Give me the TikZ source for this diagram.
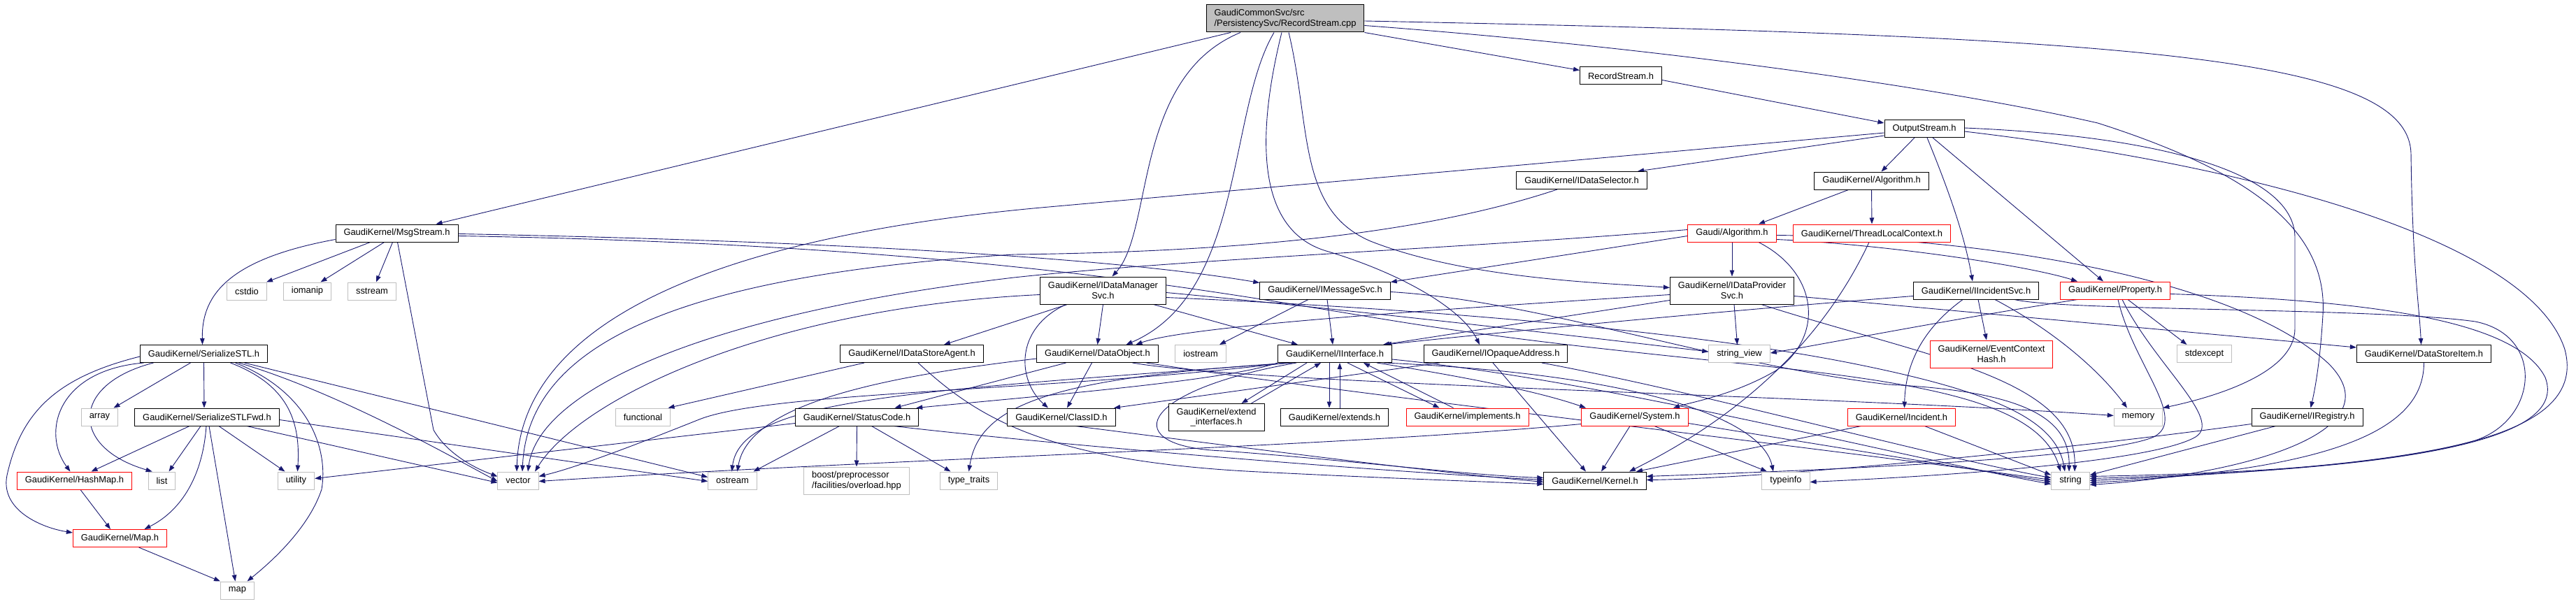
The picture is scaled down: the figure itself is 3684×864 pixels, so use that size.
\documentclass[tikz,border=0pt]{standalone}
\usepackage{fontspec}
\setmainfont{Liberation Sans}
\usepackage{tikz}
\usetikzlibrary{arrows.meta,backgrounds}
\definecolor{edgeblue}{HTML}{191970}
\definecolor{leafgray}{HTML}{BFBFBF}

\begin{document}
\begin{tikzpicture}[x=1pt,y=-1pt,
        hdr/.style={draw=black,fill=white,line width=1pt,inner xsep=11.5pt,inner ysep=2pt,minimum height=25pt,font=\fontsize{12.9}{14.5}\selectfont},
        stdh/.style={hdr,draw=leafgray},
        trunc/.style={hdr,draw=red},
        tall/.style={minimum height=39pt,align=center},
        dep/.style={draw=edgeblue,line width=0.9pt,-{Triangle[length=9pt,width=6.5pt]}}]
            \useasboundingbox (0,0) rectangle (3684,864);

            \node[hdr,fill=leafgray,tall,align=left] (main) at (1838,26.5) {GaudiCommonSvc/src\\/PersistencySvc/RecordStream.cpp};
            \node[hdr] (RS) at (2318,108.5) {RecordStream.h};
            \node[hdr] (OS) at (2752,184) {OutputStream.h};
            \node[hdr] (IDS) at (2262,258) {GaudiKernel/IDataSelector.h};
            \node[hdr] (GKAlg) at (2676.5,258.5) {GaudiKernel/Algorithm.h};
            \node[hdr] (MsgS) at (567.5,333.5) {GaudiKernel/MsgStream.h};
            \node[trunc] (GAlg) at (2477,333.5) {Gaudi/Algorithm.h};
            \node[trunc] (TLC) at (2677,333.5) {GaudiKernel/ThreadLocalContext.h};
            \node[hdr,tall] (IDM) at (1577.5,415.5) {GaudiKernel/IDataManager\\Svc.h};
            \node[hdr] (IMS) at (1895,415.5) {GaudiKernel/IMessageSvc.h};
            \node[hdr,tall] (IDP) at (2477,415.5) {GaudiKernel/IDataProvider\\Svc.h};
            \node[hdr] (IInc) at (2826,415.5) {GaudiKernel/IIncidentSvc.h};
            \node[trunc] (Prop) at (3025,415.5) {GaudiKernel/Property.h};
            \node[stdh] (cstdio) at (353,416.5) {cstdio};
            \node[stdh] (iomanip) at (439.5,416.5) {iomanip};
            \node[stdh] (sstream) at (532,416.5) {sstream};
            \node[hdr] (SSTL) at (291.5,506) {GaudiKernel/SerializeSTL.h};
            \node[hdr] (IDSA) at (1304,506) {GaudiKernel/IDataStoreAgent.h};
            \node[hdr] (DO) at (1569.5,506) {GaudiKernel/DataObject.h};
            \node[stdh] (iostream) at (1717,506) {iostream};
            \node[hdr] (IIf) at (1909,506) {GaudiKernel/IInterface.h};
            \node[hdr] (IOA) at (2139,506) {GaudiKernel/IOpaqueAddress.h};
            \node[stdh] (strview) at (2487.5,506) {string\_view};
            \node[trunc,tall] (ECH) at (2848,506.5) {GaudiKernel/EventContext\\Hash.h};
            \node[stdh] (stdexcept) at (3152.5,506) {stdexcept};
            \node[hdr] (DSI) at (3466.5,506) {GaudiKernel/DataStoreItem.h};
            \node[stdh] (array) at (142.5,596.5) {array};
            \node[hdr] (SSTLF) at (296,596.5) {GaudiKernel/SerializeSTLFwd.h};
            \node[stdh] (functional) at (919.5,596.5) {functional};
            \node[hdr] (SC) at (1225.5,596.5) {GaudiKernel/StatusCode.h};
            \node[hdr] (CID) at (1518,596.5) {GaudiKernel/ClassID.h};
            \node[hdr,tall] (ExtI) at (1739.5,597) {GaudiKernel/extend\\\_interfaces.h};
            \node[hdr] (Ext) at (1908.5,596.5) {GaudiKernel/extends.h};
            \node[trunc] (Impl) at (2098.5,596.5) {GaudiKernel/implements.h};
            \node[trunc] (Sys) at (2338,596.5) {GaudiKernel/System.h};
            \node[trunc] (Inc) at (2719.5,596.5) {GaudiKernel/Incident.h};
            \node[stdh] (memory) at (3058,596.5) {memory};
            \node[hdr] (IReg) at (3299.5,596.5) {GaudiKernel/IRegistry.h};
            \node[trunc] (HM) at (106.5,687.5) {GaudiKernel/HashMap.h};
            \node[stdh] (list) at (231.5,687.5) {list};
            \node[stdh] (utility) at (423.5,687.5) {utility};
            \node[stdh] (vector) at (741,687.5) {vector};
            \node[stdh] (ostream) at (1047.5,687.5) {ostream};
            \node[stdh,tall,align=left] (boost) at (1225,687.5) {boost/preprocessor\\/facilities/overload.hpp};
            \node[stdh] (typetraits) at (1385.5,687.5) {type\_traits};
            \node[hdr] (Kern) at (2281,687.5) {GaudiKernel/Kernel.h};
            \node[stdh] (typeinfo) at (2554,687.5) {typeinfo};
            \node[stdh] (string) at (2961,687.5) {string};
            \node[trunc] (Map) at (171.5,770) {GaudiKernel/Map.h};
            \node[stdh] (map) at (339.5,844.5) {map};

            \begin{scope}[on background layer]
            % RecordStream.cpp
            \draw[dep] ([xshift=-78pt]main.south) -- ([xshift=56pt]MsgS.north);
            \draw[dep] ([xshift=-64pt]main.south) .. controls (1620,110) and (1650,330) .. ([xshift=13pt]IDM.north);
            \draw[dep] ([xshift=-16pt]main.south) .. controls (1755,160) and (1780,420) .. ([xshift=41pt]DO.north);
            \draw[dep] ([xshift=-5pt]main.south) .. controls (1800,180) and (1790,330) .. (1900,360) .. controls (2000,390) and (2090,440) .. ([xshift=-23pt]IOA.north);
            \draw[dep] ([xshift=5pt]main.south) .. controls (1875,180) and (1855,300) .. (1960,345) .. controls (2100,400) and (2300,405) .. ([yshift=4pt]IDP.west);
            \draw[dep] ([yshift=-3.5pt]main.east) .. controls (3050,52) and (3445,80) .. (3448,220) .. controls (3450,380) and (3460,440) .. ([xshift=-4pt]DSI.north);
            \draw[dep] ([yshift=-10pt]main.east) .. controls (2400,70) and (2800,130) .. (3000,176) .. controls (3200,240) and (3330,320) .. (3322,450) .. controls (3318,520) and (3310,560) .. ([xshift=5pt]IReg.north);
            \draw[dep] (main.south east) -- ([yshift=8pt]RS.west);
            % OutputStream.h
            \draw[dep] ([yshift=-6pt]RS.east) -- ([yshift=8pt]OS.west);
            \draw[dep] ([yshift=-6pt]OS.west) -- (1500,296) .. controls (1000,340) and (745,470) .. ([xshift=-2pt]vector.north);
            \draw[dep] ([yshift=-10pt]OS.west) -- ([xshift=80pt]IDS.north);
            \draw[dep] ([xshift=-14pt]OS.south) -- ([xshift=14pt]GKAlg.north);
            \draw[dep] ([xshift=4pt]OS.south) .. controls (2790,280) and (2810,340) .. ([xshift=-5pt]IInc.north);
            \draw[dep] ([xshift=12pt]OS.south) -- ([xshift=-17pt]Prop.north);
            \draw[dep] ([yshift=1pt]OS.east) .. controls (3100,195) and (3282,250) .. (3282,340) -- (3282,470) .. controls (3282,530) and (3180,565) .. (memory.north east);
            \draw[dep] ([yshift=-4pt]OS.east) .. controls (3250,240) and (3620,350) .. (3668,500) .. controls (3700,620) and (3500,672) .. ([yshift=6pt]string.east);
            \draw[dep] ([xshift=-35pt]IDS.south) .. controls (2050,330) and (1800,360) .. (1450,364) .. controls (950,395) and (755,500) .. ([xshift=6pt]vector.north);
            \draw[dep] ([xshift=-33pt]GKAlg.south) -- ([xshift=38pt]GAlg.north);
            \draw[dep] (GKAlg.south) -- (TLC.north);
            % algorithms
            \draw[dep] ([yshift=5pt]GAlg.west) .. controls (2100,355) and (1700,370) .. (1450,397) .. controls (1000,450) and (770,560) .. ([xshift=14pt]vector.north);
            \draw[dep] ([yshift=-4pt]GAlg.west) -- ([yshift=12pt]IMS.east);
            \draw[dep] (GAlg.south) -- (IDP.north);
            \draw[dep] ([xshift=38pt]GAlg.south) .. controls (2600,390) and (2610,480) .. (2540,530) .. controls (2480,565) and (2420,575) .. ([xshift=55pt]Sys.north);
            \draw[dep] ([yshift=-9pt]GAlg.east) .. controls (2700,350) and (2900,380) .. ([xshift=-54pt]Prop.north);
            \draw[dep] ([yshift=-3pt]GAlg.east) .. controls (2850,340) and (3200,400) .. (3330,520) .. controls (3430,620) and (3200,680) .. ([yshift=-6pt]string.east);
            \draw[dep] ([xshift=-4pt]TLC.south) .. controls (2620,460) and (2520,580) .. ([xshift=49pt]Kern.north);
            % MsgStream.h
            \draw[dep] ([yshift=-9pt]MsgS.west) .. controls (330,370) and (288,420) .. ([xshift=-2pt]SSTL.north);
            \draw[dep] ([xshift=-38pt]MsgS.south) -- ([xshift=28pt]cstdio.north);
            \draw[dep] ([xshift=-18pt]MsgS.south) -- ([xshift=19pt]iomanip.north);
            \draw[dep] ([xshift=-6pt]MsgS.south) -- ([xshift=6pt]sstream.north);
            \draw[dep] ([xshift=1pt]MsgS.south) -- (620,615) .. controls (640,650) and (680,670) .. ([yshift=6pt]vector.west);
            \draw[dep] ([yshift=-1pt]MsgS.east) .. controls (1200,345) and (1600,370) .. ([yshift=11pt]IMS.west);
            \draw[dep] ([yshift=-4pt]MsgS.east) .. controls (1400,350) and (1750,420) .. (2000,460) .. controls (2500,540) and (2900,520) .. ([xshift=-14pt]string.north);
            \draw[dep] ([xshift=-24pt]IMS.south) -- ([xshift=27pt]iostream.north);
            \draw[dep] ([xshift=3pt]IMS.south) -- ([xshift=-3pt]IIf.north);
            \draw[dep] ([yshift=-2pt]IMS.east) .. controls (2200,430) and (2450,520) .. (2700,550) .. controls (2900,560) and (2960,600) .. ([xshift=-2pt]string.north);
            % data services
            \draw[dep] ([yshift=-6pt]IDM.west) .. controls (1100,440) and (830,570) .. ([xshift=24pt]vector.north);
            \draw[dep] ([xshift=-51pt]IDM.south) -- ([xshift=46pt]IDSA.north);
            \draw[dep] ([xshift=-53pt]IDM.south) .. controls (1450,470) and (1455,545) .. ([xshift=-19pt]CID.north);
            \draw[dep] (IDM.south) -- (DO.north);
            \draw[dep] ([xshift=72pt]IDM.south) -- ([xshift=-53pt]IIf.north);
            \draw[dep] ([yshift=-3pt]IDM.east) .. controls (1900,440) and (2250,480) .. ([yshift=3pt]strview.west);
            \draw[dep] ([yshift=-10pt]IDM.east) .. controls (2000,440) and (2400,470) .. (2650,520) .. controls (2850,560) and (2940,600) .. ([xshift=-8pt]string.north);
            \draw[dep] ([yshift=-6pt]IDP.west) .. controls (2100,440) and (1700,465) .. ([xshift=55pt]DO.north);
            \draw[dep] ([yshift=-14pt]IDP.west) -- ([xshift=69pt]IIf.north);
            \draw[dep] ([xshift=3pt]IDP.south) -- ([xshift=-3pt]strview.north);
            \draw[dep] ([xshift=42pt]IDP.south) .. controls (2750,510) and (2970,540) .. ([xshift=6pt]string.north);
            \draw[dep] ([yshift=-8pt]IDP.east) -- ([yshift=9pt]DSI.west);
            \draw[dep] ([xshift=-80pt]IOA.south) -- ([xshift=75pt]CID.north);
            \draw[dep] ([xshift=-4pt]IOA.south) -- ([xshift=-13pt]Kern.north);
            \draw[dep] ([xshift=66pt]IOA.south) .. controls (2450,565) and (2750,650) .. ([yshift=4pt]string.west);
            \draw[dep] ([yshift=-7pt]DO.west) .. controls (1250,540) and (1070,580) .. ([xshift=7pt]ostream.north);
            \draw[dep] ([xshift=-45pt]DO.south) -- ([xshift=54pt]SC.north);
            \draw[dep] ([xshift=-8pt]DO.south) -- ([xshift=8pt]CID.north);
            \draw[dep] ([xshift=50pt]DO.south) .. controls (1800,550) and (2600,565) .. ([yshift=2pt]memory.west);
            \draw[dep] ([xshift=70pt]DO.south) .. controls (1900,560) and (2600,640) .. ([yshift=1pt]string.west);
            % IInterface.h
            \draw[dep] ([xshift=-40pt]IIf.south) -- ([xshift=36pt]ExtI.north);
            \draw[dep] ([xshift=50pt]ExtI.north) -- ([xshift=-20pt]IIf.south);
            \draw[dep] ([xshift=-8pt]IIf.south) -- ([xshift=-7.5pt]Ext.north);
            \draw[dep] ([xshift=7.5pt]Ext.north) -- ([xshift=7pt]IIf.south);
            \draw[dep] ([xshift=18pt]IIf.south) -- ([xshift=-40pt]Impl.north);
            \draw[dep] ([xshift=-20pt]Impl.north) -- ([xshift=41pt]IIf.south);
            \draw[dep] (IIf.south west) .. controls (1750,545) and (1500,565) .. ([xshift=-4pt]SC.north east);
            \draw[dep] ([xshift=-55pt]IIf.south) .. controls (1620,560) and (1600,640) .. (1750,645) .. controls (1950,660) and (2100,680) .. ([yshift=4pt]Kern.west);
            \draw[dep] ([xshift=60pt]IIf.south) .. controls (2100,540) and (2200,560) .. ([xshift=-70pt]Sys.north);
            \draw[dep] ([xshift=70pt]IIf.south) .. controls (2350,535) and (2520,600) .. ([xshift=-18pt]typeinfo.north);
            \draw[dep] ([yshift=-8pt]IIf.east) .. controls (2300,545) and (2700,650) .. ([yshift=-5pt]string.west);
            \draw[dep] ([xshift=-60pt]IIf.south) .. controls (1500,540) and (1400,580) .. (typetraits.north);
            \draw[dep] ([xshift=-64pt]IIf.south) .. controls (1300,560) and (1060,570) .. ([xshift=-1pt]ostream.north);
            \draw[dep] ([xshift=-68pt]IIf.south) .. controls (1500,560) and (1100,560) .. (1000,600) .. controls (900,640) and (820,670) .. ([yshift=6pt]vector.east);
            % SerializeSTL.h
            \draw[dep] ([yshift=-4pt]SSTL.west) .. controls (80,540) and (30,590) .. (10,680) .. controls (0,730) and (60,755) .. ([yshift=8pt]Map.west);
            \draw[dep] ([xshift=-86pt]SSTL.south) .. controls (80,530) and (60,620) .. ([xshift=-6pt]HM.north);
            \draw[dep] ([xshift=-72pt]SSTL.south) .. controls (100,550) and (100,640) .. ([xshift=6pt]list.north west);
            \draw[dep] ([xshift=-19pt]SSTL.south) -- ([xshift=20pt]array.north);
            \draw[dep] (SSTL.south) -- ([xshift=-4pt]SSTLF.north);
            \draw[dep] ([xshift=38pt]SSTL.south) .. controls (410,550) and (430,600) .. ([xshift=2pt]utility.north);
            \draw[dep] ([xshift=45pt]SSTL.south) .. controls (440,560) and (470,640) .. (460,700) .. controls (440,760) and (380,810) .. ([xshift=14pt]map.north);
            \draw[dep] ([xshift=50pt]SSTL.south) .. controls (480,560) and (640,650) .. ([yshift=-1pt]vector.west);
            \draw[dep] ([xshift=58pt]SSTL.south) -- ([yshift=5pt]ostream.west);
            \draw[dep] ([xshift=-25pt]SSTLF.south) -- ([xshift=24pt]HM.north);
            \draw[dep] ([xshift=-9pt]SSTLF.south) -- ([xshift=10pt]list.north);
            \draw[dep] ([xshift=-1pt]SSTLF.south) .. controls (290,680) and (260,730) .. ([xshift=35pt]Map.north);
            \draw[dep] ([xshift=3pt]SSTLF.south) -- ([xshift=-3pt]map.north);
            \draw[dep] ([xshift=17pt]SSTLF.south) -- ([xshift=-16pt]utility.north);
            \draw[dep] ([xshift=57pt]SSTLF.south) -- ([yshift=-3pt]vector.west);
            \draw[dep] ([yshift=-4pt]SSTLF.east) -- ([yshift=-1pt]ostream.west);
            \draw[dep] ([xshift=8.5pt]HM.south) -- ([xshift=-13.5pt]Map.north);
            \draw[dep] ([xshift=27pt]Map.south) -- (map.north west);
            % StatusCode.h and friends
            \draw[dep] ([yshift=-9pt]SC.west) -- ([yshift=3pt]utility.east);
            \draw[dep] ([xshift=-25pt]SC.south) -- ([xshift=30pt]ostream.north);
            \draw[dep] (SC.south) -- (boost.north);
            \draw[dep] ([xshift=21pt]SC.south) -- ([xshift=-26pt]typetraits.north);
            \draw[dep] ([xshift=53pt]SC.south) .. controls (1450,630) and (1900,670) .. ([yshift=1pt]Kern.west);
            \draw[dep] ([xshift=20pt]CID.south) .. controls (1700,630) and (2000,670) .. ([yshift=-2pt]Kern.west);
            \draw[dep] ([xshift=-68pt]IDSA.south) -- ([xshift=36pt]functional.north);
            \draw[dep] ([xshift=9pt]IDSA.south) .. controls (1400,600) and (1500,660) .. (1800,675) .. controls (2000,685) and (2150,690) .. ([yshift=-5pt]Kern.west);
            \draw[dep] ([yshift=-10pt]Sys.west) .. controls (1900,640) and (1300,655) .. ([yshift=-1pt]vector.east);
            \draw[dep] ([xshift=-7pt]Sys.south) -- ([xshift=9pt]Kern.north);
            \draw[dep] ([xshift=28pt]Sys.south) -- ([xshift=-27pt]typeinfo.north);
            \draw[dep] ([yshift=-9pt]Sys.east) -- ([yshift=-2pt]string.west);
            \draw[dep] ([xshift=-58pt]Inc.south) -- ([xshift=59pt]Kern.north);
            \draw[dep] ([xshift=33pt]Inc.south) -- ([yshift=8pt]string.west);
            % IIncidentSvc.h, Property.h
            \draw[dep] ([yshift=-8pt]IInc.west) .. controls (2400,450) and (2100,480) .. ([xshift=72pt]IIf.north);
            \draw[dep] ([xshift=-19pt]IInc.south) .. controls (2750,470) and (2725,520) .. ([xshift=4pt]Inc.north);
            \draw[dep] ([xshift=3pt]IInc.south) -- ([xshift=-7pt]ECH.north);
            \draw[dep] ([xshift=27pt]IInc.south) .. controls (2950,480) and (3010,540) .. ([xshift=-16pt]memory.north);
            \draw[dep] ([xshift=55pt]IInc.south) .. controls (2950,445) and (3400,440) .. (3540,460) .. controls (3640,480) and (3630,600) .. (3540,630) .. controls (3400,670) and (3100,682) .. (string.east);
            \draw[dep] ([xshift=-54pt]Prop.south) .. controls (2800,455) and (2620,490) .. ([yshift=1pt]strview.east);
            \draw[dep] ([xshift=4pt]Prop.south) .. controls (3050,520) and (3130,600) .. (3080,625) .. controls (3000,660) and (2500,676) .. ([yshift=6pt]Kern.east);
            \draw[dep] ([xshift=10pt]Prop.south) .. controls (3080,520) and (3180,600) .. (3140,625) .. controls (3080,660) and (2800,680) .. ([yshift=-2pt]typeinfo.east);
            \draw[dep] ([xshift=18pt]Prop.south) -- ([xshift=-25pt]stdexcept.north);
            \draw[dep] ([yshift=-5pt]Prop.east) .. controls (3400,430) and (3600,460) .. (3640,540) .. controls (3670,620) and (3500,670) .. ([yshift=3pt]string.east);
            \draw[dep] (DSI.south) .. controls (3466,600) and (3380,670) .. ([yshift=-3pt]string.east);
            \draw[dep] ([yshift=-10pt]IReg.west) .. controls (2900,650) and (2500,685) .. ([yshift=1pt]Kern.east);
            \draw[dep] ([xshift=-45pt]IReg.south) -- ([yshift=8pt]string.east);
            \end{scope}
        \end{tikzpicture}
\end{document}
